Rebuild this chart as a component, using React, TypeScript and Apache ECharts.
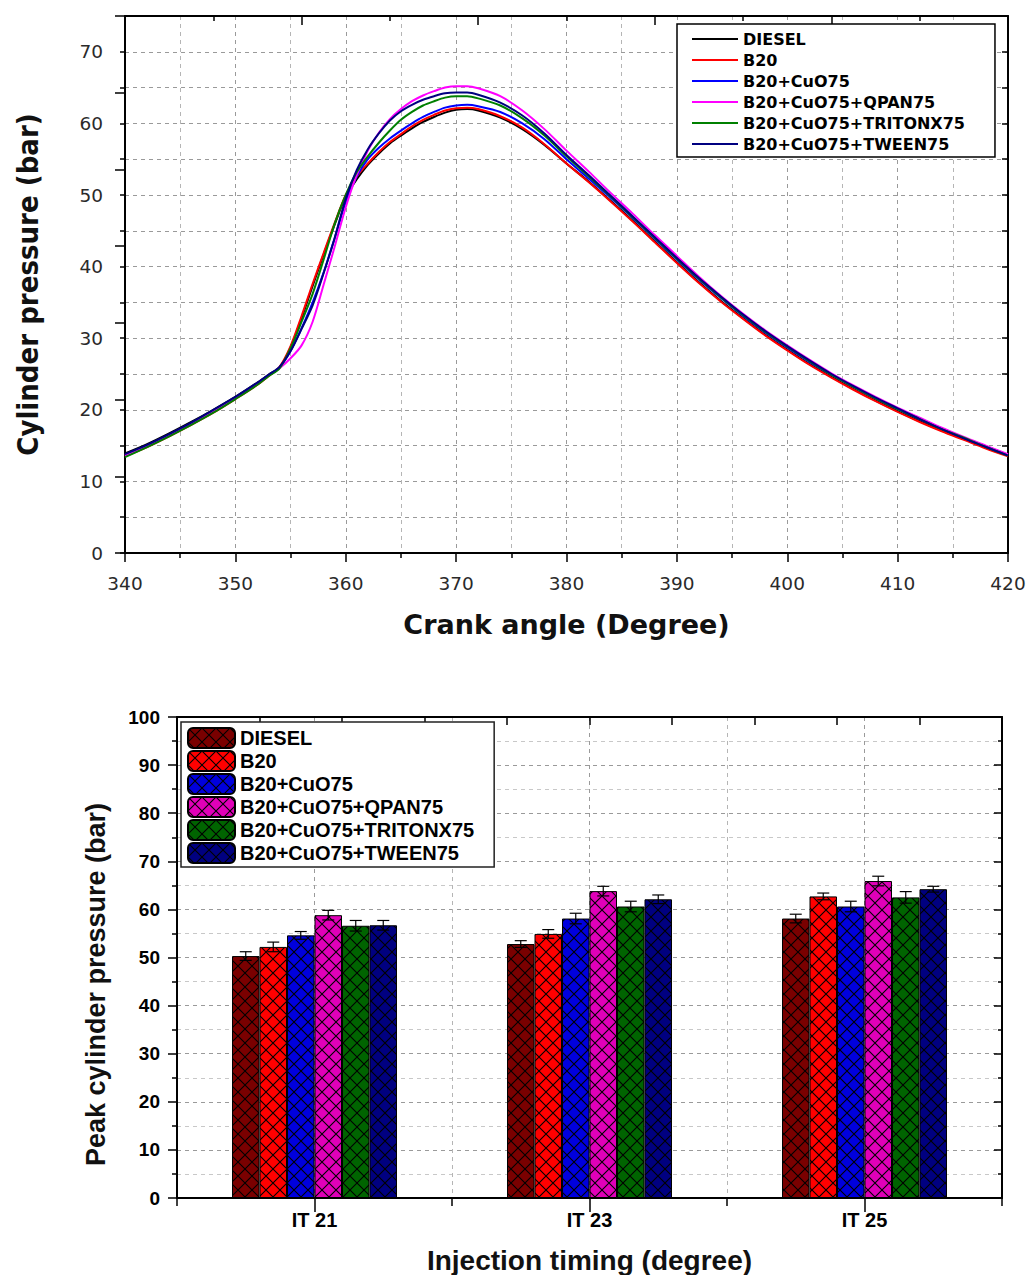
import React, { useEffect, useRef } from 'react';
import * as echarts from 'echarts';

// ---------- Top chart: cylinder pressure vs crank angle ----------
const crankAngles = [340, 342, 344, 346, 348, 350, 352, 353, 354, 355, 356, 357, 358, 359, 360, 361, 362, 363, 364, 365, 366, 367, 368, 369, 370, 371, 372, 374, 376, 378, 380, 382, 384, 386, 388, 390, 392, 394, 396, 398, 400, 402, 404, 406, 408, 410, 412, 414, 416, 418, 420];

const pDiesel = [13.9, 15.2, 16.7, 18.3, 20.0, 21.8, 23.8, 24.9, 25.9, 28.7, 32.8, 37.3, 41.7, 45.9, 49.8, 52.2, 54.2, 55.8, 57.2, 58.3, 59.3, 60.2, 60.9, 61.5, 61.9, 62.0, 61.8, 60.8, 59.2, 57.0, 54.4, 51.9, 49.2, 46.4, 43.5, 40.6, 37.8, 35.2, 32.8, 30.5, 28.4, 26.4, 24.6, 22.9, 21.3, 19.8, 18.4, 17.1, 15.9, 14.7, 13.6];
const pB20 = [13.5, 14.8, 16.3, 17.9, 19.6, 21.5, 23.5, 24.7, 26.0, 28.9, 33.1, 37.6, 41.9, 46.1, 50.0, 52.6, 54.4, 56.0, 57.4, 58.5, 59.6, 60.5, 61.2, 61.8, 62.1, 62.2, 62.0, 61.0, 59.4, 57.1, 54.4, 51.8, 49.1, 46.3, 43.4, 40.5, 37.7, 35.1, 32.7, 30.4, 28.3, 26.3, 24.5, 22.8, 21.2, 19.7, 18.3, 17.0, 15.8, 14.6, 13.5];
const pCuO = [13.6, 15.0, 16.5, 18.1, 19.8, 21.7, 23.7, 24.8, 25.9, 28.2, 31.4, 35.0, 39.2, 44.0, 49.0, 52.6, 55.0, 56.6, 57.9, 59.0, 60.0, 60.9, 61.6, 62.2, 62.5, 62.6, 62.4, 61.6, 60.0, 57.8, 55.0, 52.3, 49.6, 46.8, 43.9, 41.0, 38.2, 35.6, 33.1, 30.8, 28.7, 26.7, 24.9, 23.2, 21.6, 20.1, 18.7, 17.4, 16.1, 14.9, 13.7];
const pQpan = [13.6, 15.0, 16.5, 18.1, 19.8, 21.7, 23.7, 24.8, 25.8, 27.2, 29.0, 32.3, 37.5, 42.8, 48.3, 52.8, 56.2, 58.7, 60.6, 62.0, 63.1, 63.9, 64.5, 65.0, 65.2, 65.2, 64.9, 63.8, 61.8, 59.2, 56.2, 53.3, 50.3, 47.4, 44.4, 41.5, 38.6, 35.9, 33.4, 31.1, 29.0, 27.0, 25.1, 23.4, 21.8, 20.3, 18.9, 17.5, 16.2, 15.0, 13.8];
const pTriton = [13.4, 14.8, 16.3, 17.9, 19.6, 21.5, 23.5, 24.7, 25.8, 28.6, 32.3, 36.2, 41.0, 46.0, 50.0, 53.2, 55.4, 57.3, 59.0, 60.5, 61.6, 62.5, 63.1, 63.6, 63.8, 63.8, 63.5, 62.5, 60.7, 58.3, 55.4, 52.6, 49.8, 46.9, 44.0, 41.1, 38.3, 35.7, 33.2, 30.9, 28.8, 26.8, 24.9, 23.2, 21.6, 20.1, 18.7, 17.3, 16.1, 14.8, 13.6];
const pTween = [13.8, 15.1, 16.6, 18.2, 20.0, 21.8, 23.8, 24.9, 26.0, 28.2, 31.3, 34.6, 39.1, 44.0, 49.5, 53.5, 56.4, 58.6, 60.4, 61.7, 62.6, 63.3, 63.8, 64.2, 64.3, 64.3, 64.0, 62.9, 61.1, 58.6, 55.6, 52.8, 49.9, 47.0, 44.1, 41.2, 38.4, 35.8, 33.3, 31.0, 28.9, 26.9, 25.0, 23.3, 21.7, 20.2, 18.7, 17.3, 16.0, 14.8, 13.6];

const fuelNames = ['DIESEL', 'B20', 'B20+CuO75', 'B20+CuO75+QPAN75', 'B20+CuO75+TRITONX75', 'B20+CuO75+TWEEN75'];
const lineColors = ['#000000', '#ff0000', '#0000ff', '#ff00ff', '#008000', '#000080'];
const lineValues = [pDiesel, pB20, pCuO, pQpan, pTriton, pTween];

// ---------- Bottom chart: peak cylinder pressure vs injection timing ----------
const timingCategories = ['IT 21', 'IT 23', 'IT 25'];
const peakDiesel = [50.3, 52.8, 58.1];
const peakB20 = [52.2, 54.9, 62.7];
const peakCuO = [54.6, 58.1, 60.6];
const peakQpan = [58.8, 63.8, 65.9];
const peakTriton = [56.6, 60.6, 62.5];
const peakTween = [56.7, 62.1, 64.2];
const errDiesel = [0.9, 0.7, 0.9];
const errB20 = [1.0, 0.9, 0.7];
const errCuO = [0.8, 1.1, 1.1];
const errQpan = [1.0, 1.0, 1.0];
const errTriton = [1.1, 1.1, 1.2];
const errTween = [1.0, 0.9, 0.6];
const barColors = ['#7a0000', '#ff0000', '#0000dd', '#e000b8', '#006400', '#000080'];
const barValues = [peakDiesel, peakB20, peakCuO, peakQpan, peakTriton, peakTween];
const barErrors = [errDiesel, errB20, errCuO, errQpan, errTriton, errTween];

const SANS = 'Liberation Sans, Arial, sans-serif';
const CONDENSED = 'DejaVu Sans Condensed, Liberation Sans, sans-serif';
const WIDE = 'DejaVu Sans, Verdana, sans-serif';

function makeHatch(color: string) {
  const s = 14;
  const svg =
    `<svg xmlns='http://www.w3.org/2000/svg' width='${s}' height='${s}'>` +
    `<rect width='${s}' height='${s}' fill='${color}'/>` +
    `<path d='M0 0L${s} ${s}M${s} 0L0 ${s}' stroke='#000' stroke-width='1.1' fill='none'/>` +
    `</svg>`;
  const url = 'data:image/svg+xml;charset=utf-8,' + encodeURIComponent(svg);
  return { image: url, repeat: 'repeat', imageWidth: s, imageHeight: s } as any;
}

function buildOption() {
  const dashed = { color: '#9a9a9a', type: [4, 4] as any, width: 1 };
  const dashedLight = { color: '#b5b5b5', type: [4, 4] as any, width: 1 };
  const blackLine = { color: '#000', width: 2 };
  const tickStyle = { color: '#000', width: 1.5 };

  const lineSeries = fuelNames.map((name, k) => ({
    type: 'line',
    name,
    xAxisIndex: 0,
    yAxisIndex: 0,
    data: crankAngles.map((a, i) => [a, lineValues[k][i]]),
    showSymbol: false,
    symbol: 'none',
    smooth: 0.3,
    lineStyle: { color: lineColors[k], width: 2 },
    itemStyle: { color: lineColors[k] },
    z: 3,
  }));

  const barSeries = fuelNames.map((name, k) => ({
    type: 'bar',
    name: 'bar:' + name,
    xAxisIndex: 2,
    yAxisIndex: 3,
    data: barValues[k],
    barGap: '0%',
    barCategoryGap: '40%',
    itemStyle: { color: makeHatch(barColors[k]), borderColor: '#000', borderWidth: 1 },
    z: 3,
  }));

  const errSeries = fuelNames.map((_, k) => ({
    type: 'custom',
    xAxisIndex: 2,
    yAxisIndex: 3,
    z: 4,
    data: timingCategories.map((_c, i) => [i, barValues[k][i], barErrors[k][i]]),
    renderItem: (_params: any, api: any) => {
      const xi = api.value(0);
      const v = api.value(1);
      const e = api.value(2);
      const band = api.size([1, 0])[0];
      const bw = (band * 0.6) / 6;
      const cx = api.coord([xi, v])[0] + (k - 2.5) * bw;
      const yTop = api.coord([xi, v + e])[1];
      const yBot = api.coord([xi, v - e])[1];
      const hw = 6;
      const st = { stroke: '#000', lineWidth: 1.2 };
      return {
        type: 'group',
        children: [
          { type: 'line', shape: { x1: cx, y1: yTop, x2: cx, y2: yBot }, style: st },
          { type: 'line', shape: { x1: cx - hw, y1: yTop, x2: cx + hw, y2: yTop }, style: st },
          { type: 'line', shape: { x1: cx - hw, y1: yBot, x2: cx + hw, y2: yBot }, style: st },
        ],
      };
    },
  }));

  return {
    animation: false,
    backgroundColor: '#ffffff',
    tooltip: { show: false },
    grid: [
      { left: 125, top: 16, width: 883, height: 537 },
      { left: 177, top: 717, width: 825, height: 483 },
    ],
    legend: [
      {
        data: fuelNames,
        orient: 'vertical',
        left: 677,
        top: 24,
        icon: 'rect',
        itemWidth: 46,
        itemHeight: 2,
        itemGap: 5,
        padding: [7, 30, 5, 15],
        backgroundColor: '#fff',
        borderColor: '#000',
        borderWidth: 1.5,
        textStyle: { fontFamily: WIDE, fontWeight: 'bold', fontSize: 16, lineHeight: 16, color: '#000' },
      },
      {
        data: fuelNames.map((n) => 'bar:' + n),
        formatter: (n: string) => n.slice(4),
        orient: 'vertical',
        left: 181,
        top: 722,
        itemWidth: 47,
        itemHeight: 20,
        itemGap: 1,
        padding: [5, 20, 3, 6],
        backgroundColor: '#fff',
        borderColor: '#222',
        borderWidth: 1.5,
        textStyle: { fontFamily: SANS, fontWeight: 'bold', fontSize: 20, lineHeight: 20, color: '#000' },
      },
    ],
    xAxis: [
      {
        type: 'value',
        gridIndex: 0,
        position: 'bottom',
        min: 340,
        max: 420,
        interval: 10,
        axisLine: { onZero: false, lineStyle: blackLine },
        axisTick: { length: 9, lineStyle: tickStyle },
        minorTick: { show: true, splitNumber: 2, length: 5, lineStyle: tickStyle },
        splitLine: { show: true, lineStyle: dashed },
        minorSplitLine: { show: true, lineStyle: dashedLight },
        axisLabel: { fontFamily: WIDE, fontSize: 18.5, color: '#2a2a2a', margin: 21 },
        name: 'Crank angle (Degree)',
        nameLocation: 'middle',
        nameGap: 58,
        nameTextStyle: { fontFamily: WIDE, fontWeight: 'bold', fontSize: 27, color: '#111' },
      },
      {
        type: 'value',
        gridIndex: 0,
        position: 'top',
        min: 0,
        max: 10,
        interval: 2,
        axisLine: { onZero: false, lineStyle: blackLine },
        axisTick: { inside: true, length: 9, lineStyle: tickStyle },
        minorTick: { show: true, splitNumber: 2, length: 5, lineStyle: tickStyle },
        splitLine: { show: false },
        axisLabel: { show: false },
      },
      {
        type: 'category',
        gridIndex: 1,
        position: 'bottom',
        data: timingCategories,
        axisLine: { onZero: false, lineStyle: blackLine },
        axisTick: { show: false },
        splitLine: { show: false },
        axisLabel: { fontFamily: SANS, fontWeight: 'bold', fontSize: 20, color: '#000', margin: 12 },
        name: 'Injection timing (degree)',
        nameLocation: 'middle',
        nameGap: 48,
        nameTextStyle: { fontFamily: SANS, fontWeight: 'bold', fontSize: 28, color: '#111' },
      },
      {
        type: 'value',
        gridIndex: 1,
        position: 'bottom',
        min: 0,
        max: 6,
        interval: 2,
        axisLine: { show: false, onZero: false },
        axisTick: { length: 8, lineStyle: tickStyle },
        minorTick: { show: true, splitNumber: 2, length: 14, lineStyle: tickStyle },
        splitLine: { show: true, lineStyle: dashedLight },
        minorSplitLine: { show: true, lineStyle: dashed },
        axisLabel: { show: false },
      },
      {
        type: 'value',
        gridIndex: 1,
        position: 'top',
        min: 0,
        max: 10,
        interval: 1,
        axisLine: { onZero: false, lineStyle: blackLine },
        axisTick: { inside: true, length: 8, lineStyle: tickStyle },
        splitLine: { show: false },
        axisLabel: { show: false },
      },
    ],
    yAxis: [
      {
        type: 'value',
        gridIndex: 0,
        position: 'left',
        min: 0,
        max: 75,
        interval: 5,
        axisLine: { onZero: false, lineStyle: blackLine },
        axisTick: { length: 5, lineStyle: tickStyle },
        splitLine: { show: true, lineStyle: dashed },
        axisLabel: {
          fontFamily: WIDE,
          fontSize: 18.5,
          color: '#2a2a2a',
          margin: 22,
          showMaxLabel: false,
          formatter: (v: number) => (v % 10 === 0 ? String(v) : ''),
        },
        name: 'Cylinder pressure (bar)',
        nameLocation: 'middle',
        nameGap: 83,
        nameTextStyle: { fontFamily: CONDENSED, fontWeight: 'bold', fontSize: 29, color: '#111' },
      },
      {
        type: 'value',
        gridIndex: 0,
        position: 'right',
        min: 0,
        max: 75,
        interval: 5,
        axisLine: { onZero: false, lineStyle: blackLine },
        axisTick: { inside: true, length: 6, lineStyle: tickStyle },
        splitLine: { show: false },
        axisLabel: { show: false },
      },
      {
        type: 'value',
        gridIndex: 0,
        position: 'left',
        min: 0,
        max: 70,
        interval: 10,
        axisLine: { show: false, onZero: false },
        axisTick: { length: 10, lineStyle: tickStyle },
        splitLine: { show: false },
        axisLabel: { show: false },
      },
      {
        type: 'value',
        gridIndex: 1,
        position: 'left',
        min: 0,
        max: 100,
        interval: 10,
        axisLine: { onZero: false, lineStyle: blackLine },
        axisTick: { length: 9, lineStyle: tickStyle },
        minorTick: { show: true, splitNumber: 2, length: 5, lineStyle: tickStyle },
        splitLine: { show: true, lineStyle: dashed },
        minorSplitLine: { show: true, lineStyle: { color: '#c8c8c8', type: [4, 4], width: 1 } },
        axisLabel: { fontFamily: SANS, fontWeight: 'bold', fontSize: 19, color: '#000', margin: 17 },
        name: 'Peak cylinder pressure (bar)',
        nameLocation: 'middle',
        nameGap: 68,
        nameTextStyle: { fontFamily: SANS, fontWeight: 'bold', fontSize: 27, color: '#111', padding: [0, 54, 0, 0] },
      },
      {
        type: 'value',
        gridIndex: 1,
        position: 'right',
        min: 0,
        max: 100,
        interval: 10,
        axisLine: { onZero: false, lineStyle: blackLine },
        axisTick: { inside: true, length: 8, lineStyle: tickStyle },
        minorTick: { show: true, splitNumber: 2, length: 4, lineStyle: tickStyle },
        splitLine: { show: false },
        axisLabel: { show: false },
      },
    ],
    series: [...lineSeries, ...barSeries, ...errSeries],
  };
}

export default function App() {
  const ref = useRef<HTMLDivElement>(null);
  useEffect(() => {
    if (!ref.current) return;
    const chart = echarts.init(ref.current, null, { renderer: 'svg' });
    chart.setOption(buildOption() as any);
    return () => {
      chart.dispose();
    };
  }, []);
  return (
    <div
      ref={ref}
      style={{ position: 'absolute', left: 0, top: 0, width: 1032, height: 1275, background: '#fff' }}
    />
  );
}
